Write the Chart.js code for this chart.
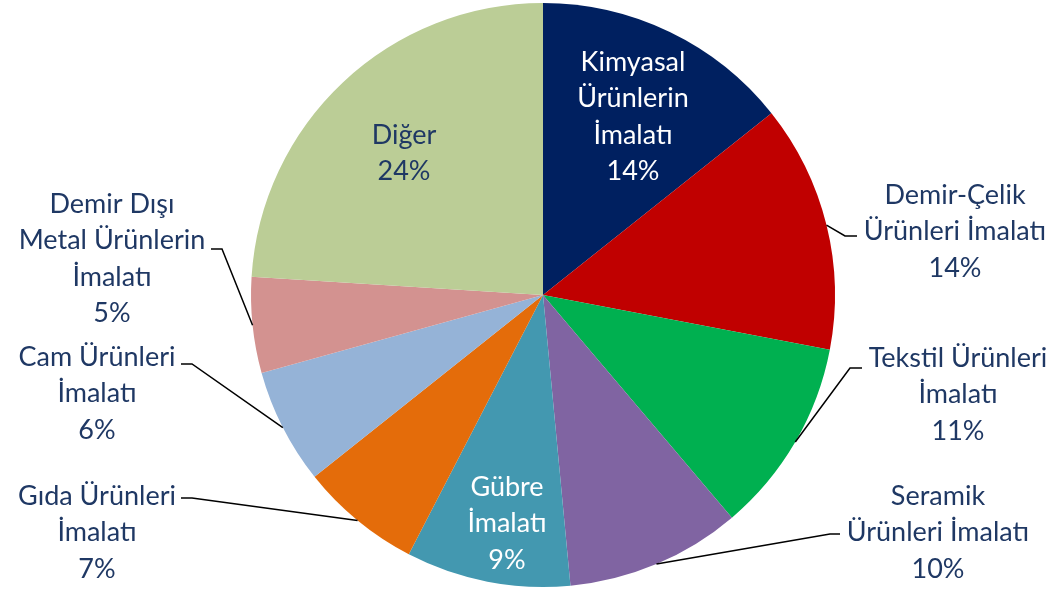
<!DOCTYPE html>
<html>
<head>
<meta charset="utf-8">
<script src="https://cdn.jsdelivr.net/npm/chart.js@4"></script>
<style>
  html, body { margin:0; padding:0; background:#fff; }
  #wrap { width:1054px; height:590px; position:relative; }
</style>
</head>
<body>
<div id="wrap"><canvas id="pieChart" width="1054" height="590"></canvas></div>
<script>
// sektör adları (satır sonları etiket için)
const categories = [
  'Kimyasal\nÜrünlerin\nİmalatı',
  'Demir-Çelik\nÜrünleri İmalatı',
  'Tekstil Ürünleri\nİmalatı',
  'Seramik\nÜrünleri İmalatı',
  'Gübre\nİmalatı',
  'Gıda Ürünleri\nİmalatı',
  'Cam Ürünleri\nİmalatı',
  'Demir Dışı\nMetal Ürünlerin\nİmalatı',
  'Diğer'
];
const shares = [14.3, 13.7, 10.8, 9.7, 9.1, 6.7, 6.4, 5.3, 24.0];
const colors = ['#002060','#C00000','#00B050','#8064A2','#4398B0','#E46C0A','#95B3D7','#D39290','#BBCD96'];
const labelColors = ['#FFFFFF','#1F3864','#1F3864','#1F3864','#FFFFFF','#1F3864','#1F3864','#1F3864','#1F3864'];

// etiket yerleşimi: metin merkezi x, ilk satır y; leader: dirsek + yatay uç (null = içeride)
const labelPos = [
  {x:633, y:62,  leader:null},
  {x:955, y:195, leader:{ex:845, ey:236, hx:857}},
  {x:958, y:358, leader:{ex:850, ey:368, hx:862}},
  {x:938, y:496, leader:{ex:830, ey:534, hx:840}},
  {x:507, y:487, leader:null},
  {x:97,  y:496, leader:{ex:192, ey:498, hx:181}},
  {x:97,  y:357, leader:{ex:192, ey:364, hx:181}},
  {x:112, y:204, leader:{ex:222, ey:249, hx:211}},
  {x:404, y:135, leader:null}
];
const LINE_H = 36.5;

const pieLabels = {
  id:'pieLabels',
  afterDatasetsDraw(chart) {
    const ctx = chart.ctx;
    const meta = chart.getDatasetMeta(0);
    ctx.save();
    meta.data.forEach((arc, i) => {
      const p = labelPos[i];
      if (p.leader) {
        const mid = (arc.startAngle + arc.endAngle) / 2;
        const sx = arc.x + Math.cos(mid) * arc.outerRadius;
        const sy = arc.y + Math.sin(mid) * arc.outerRadius;
        ctx.beginPath();
        ctx.moveTo(sx, sy);
        ctx.lineTo(p.leader.ex, p.leader.ey);
        ctx.lineTo(p.leader.hx, p.leader.ey);
        ctx.strokeStyle = '#000';
        ctx.lineWidth = 1.5;
        ctx.stroke();
      }
      const lines = categories[i].split('\n').concat([Math.round(shares[i]) + '%']);
      ctx.fillStyle = labelColors[i];
      ctx.font = '27px Lato, "Open Sans", sans-serif';
      ctx.textAlign = 'center';
      ctx.textBaseline = 'middle';
      lines.forEach((t, k) => ctx.fillText(t, p.x, p.y + k * LINE_H));
    });
    ctx.restore();
  }
};

new Chart(document.getElementById('pieChart'), {
  type:'pie',
  data:{
    labels: categories.map(c => c.replace(/\n/g, ' ')),
    datasets:[{data:shares, backgroundColor:colors, borderWidth:0}]
  },
  options:{
    responsive:false,
    animation:false,
    layout:{padding:{left:32, right:0, top:3, bottom:3}},
    plugins:{legend:{display:false}, tooltip:{enabled:false}}
  },
  plugins:[pieLabels]
});
</script>
</body>
</html>
